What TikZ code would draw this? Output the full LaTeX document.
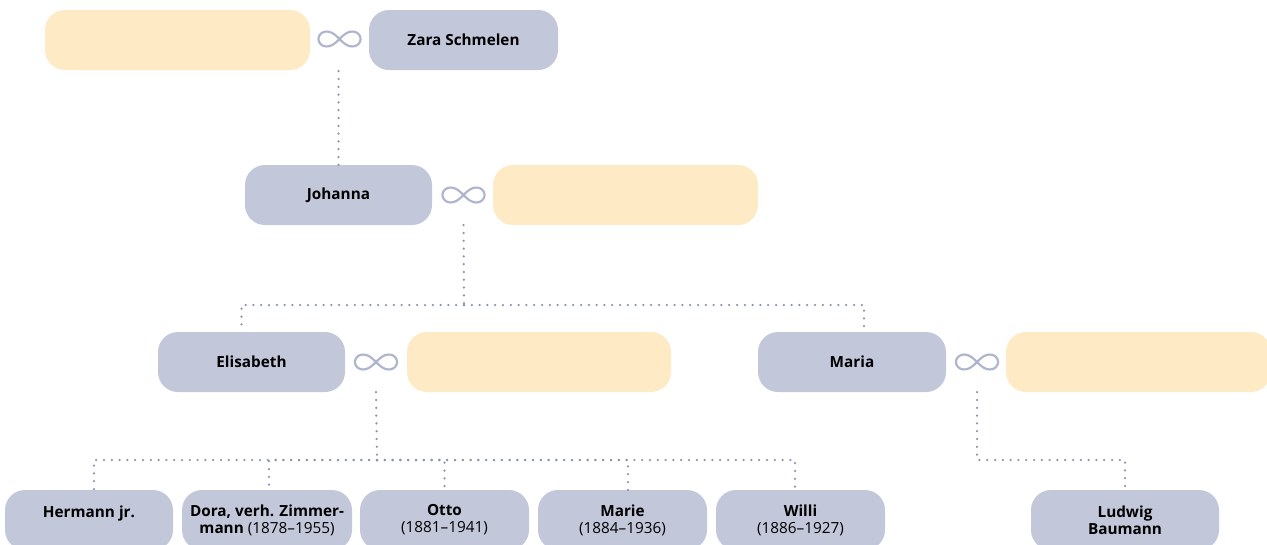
\documentclass[tikz,border=0pt]{standalone}
\usepackage{fontspec}
\setmainfont{Open Sans}
\definecolor{persc}{RGB}{195,199,218}
\definecolor{partc}{RGB}{254,234,196}
\definecolor{dotc}{RGB}{140,147,181}
\definecolor{infc}{RGB}{176,181,206}
\tikzset{
  box/.style={rounded corners=20pt, minimum height=60pt, inner sep=1pt, align=center,
    font=\bfseries\fontsize{15.3}{17}\selectfont},
  person/.style={box, fill=persc},
  partner/.style={box, fill=partc},
  infty/.style={minimum width=52pt, minimum height=22pt, inner sep=0pt,
    path picture={\draw[infc, line width=2.2pt, shift={(path picture bounding box.center)}]
      plot[domain=0:360, samples=90, smooth cycle]
      ({21*cos(\x)/(1+sin(\x)^2)}, {21*sin(\x)*cos(\x)/(1+sin(\x)^2)});}},
  dots/.style={dotc, line width=2.5pt, line cap=round, dash pattern=on 0pt off 7.8pt}
}
\newcommand{\yrs}[1]{{\mdseries #1}}
\begin{document}
\begin{tikzpicture}[x=1pt, y=-1pt]
\useasboundingbox (0,0) rectangle (1267,544);
% row 1
\node[partner, minimum width=265pt] (ya) at (177.5,40) {};
\node[infty] (i0) at (339.5,39) {};
\node[person, minimum width=189pt] (z) at (463.5,40) {Zara Schmelen};
% row 2
\node[person, minimum width=187pt] (j) at (338.5,195) {Johanna};
\node[infty] (i1) at (463.5,195) {};
\node[partner, minimum width=265pt] (yb) at (625.5,195) {};
% row 3
\node[person, minimum width=187pt] (e) at (251.5,362) {Elisabeth};
\node[infty] (i2) at (376,362) {};
\node[partner, minimum width=264pt] (yc) at (539,362) {};
\node[person, minimum width=188pt] (m) at (852,362) {Maria};
\node[infty] (i3) at (977,362) {};
\node[partner, minimum width=265pt] (yd) at (1138.5,362) {};
% row 4
\node[person, minimum width=168pt] (h) at (89,520) {Hermann jr.\\~};
\node[person, minimum width=170pt] (d) at (267,520) {Dora, verh. Zimmer-\\mann \yrs{(1878--1955)}};
\node[person, minimum width=169pt] (o) at (444.5,520) {Otto\\\yrs{(1881--1941)}};
\node[person, minimum width=169pt] (ma) at (622.5,520) {Marie\\\yrs{(1884--1936)}};
\node[person, minimum width=169pt] (w) at (800.5,520) {Willi\\\yrs{(1886--1927)}};
\node[person, minimum width=188pt] (l) at (1125,520) {Ludwig\\Baumann};
% connectors
\coordinate (f1) at (464,305);
\coordinate (f2) at (377,460);
\coordinate (f3) at (977,460);
\draw[dots] (j.north) -- (j.north |- ya.south);
\draw[dots] (i1 |- yb.south) -- (f1);
\draw[dots] (f1) -| ([xshift=-10pt]e.north);
\draw[dots] (f1) -| ([xshift=12pt]m.north);
\draw[dots] (i2 |- yc.south) -- (f2);
\draw[dots] (f2) -| ([xshift=5pt]h.north);
\draw[dots] (f2) -| ([xshift=2pt]d.north);
\draw[dots] (f2) -| (o.north);
\draw[dots] (f2) -| ([xshift=5.5pt]ma.north);
\draw[dots] (f2) -| ([xshift=-5.5pt]w.north);
\draw[dots] (i3 |- yd.south) -- (f3) -| (l.north);
\end{tikzpicture}
\end{document}
